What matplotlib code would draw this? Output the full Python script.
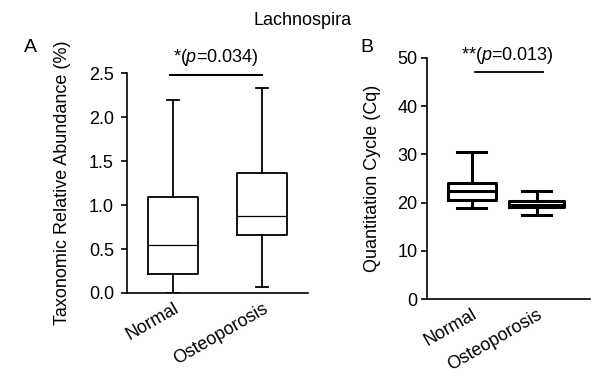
"""Lachnospira box plots: relative abundance (A) and qPCR Cq (B)"""
import matplotlib
matplotlib.use('Agg')
import matplotlib.pyplot as plt

plt.rcParams['font.family'] = ['Liberation Sans', 'DejaVu Sans']
plt.rcParams['mathtext.fontset'] = 'custom'
plt.rcParams['mathtext.it'] = 'Liberation Sans:italic'
plt.rcParams['mathtext.rm'] = 'Liberation Sans'

groups = ['Normal', 'Osteoporosis']

# panel A: taxonomic relative abundance (%)
abund_stats = [
    dict(whislo=0.0, q1=0.22, med=0.55, q3=1.09, whishi=2.20),
    dict(whislo=0.07, q1=0.66, med=0.88, q3=1.37, whishi=2.33),
]
# panel B: quantitation cycle (Cq)
cq_stats = [
    dict(whislo=18.8, q1=20.5, med=22.5, q3=24.0, whishi=30.5),
    dict(whislo=17.5, q1=19.0, med=19.6, q3=20.4, whishi=22.4),
]
p_text = ['*($p$=0.034)', '**($p$=0.013)']

FS = 13

fig = plt.figure(figsize=(6.08, 3.79), dpi=100)
axA = fig.add_axes([0.209, 0.227, 0.298, 0.580])
axB = fig.add_axes([0.703, 0.211, 0.267, 0.636])

def style_axis(ax, ypad):
    for s in ['top', 'right']:
        ax.spines[s].set_visible(False)
    for s in ['left', 'bottom']:
        ax.spines[s].set_linewidth(1.2)
    ax.tick_params(axis='y', length=4, width=1.2, labelsize=FS, pad=ypad)
    ax.tick_params(axis='x', length=0, labelsize=FS, pad=5)
    ax.set_xticks([1, 2])
    ax.set_xticklabels(groups, rotation=30, ha='right', rotation_mode='anchor')

# Panel A
for i, st in enumerate(abund_stats):
    axA.bxp([dict(st, label=groups[i])], positions=[i + 1], widths=0.56,
            showfliers=False, capwidths=0.14,
            boxprops=dict(color='black', linewidth=1.3),
            whiskerprops=dict(color='black', linewidth=1.3),
            capprops=dict(color='black', linewidth=1.3),
            medianprops=dict(color='black', linewidth=0.9))
axA.set_xlim(0.48, 2.52)
axA.set_ylim(0, 2.5)
axA.set_yticks([0, 0.5, 1.0, 1.5, 2.0, 2.5])
axA.set_yticklabels(['0.0', '0.5', '1.0', '1.5', '2.0', '2.5'])
axA.set_ylabel('Taxonomic Relative Abundance (%)', fontsize=FS, labelpad=13)
style_axis(axA, 5.5)
axA.plot([0.96, 2.0], [2.48, 2.48], color='black', lw=1.5, clip_on=False)
axA.text(1.48, 2.56, p_text[0], ha='center', va='bottom', fontsize=FS)

# Panel B
b_widths = [0.74, 0.86]
for i, st in enumerate(cq_stats):
    axB.bxp([dict(st, label=groups[i])], positions=[i + 1], widths=b_widths[i],
            showfliers=False, capwidths=0.45,
            boxprops=dict(color='black', linewidth=2.2),
            whiskerprops=dict(color='black', linewidth=2.2),
            capprops=dict(color='black', linewidth=2.2),
            medianprops=dict(color='black', linewidth=2.2))
axB.set_xlim(0.32, 2.82)
axB.set_ylim(0, 50)
axB.set_yticks([0, 10, 20, 30, 40, 50])
axB.set_ylabel('Quantitation Cycle (Cq)', fontsize=FS, labelpad=12)
style_axis(axB, 3)
axB.plot([1.05, 2.1], [47.1, 47.1], color='black', lw=1.3, clip_on=False)
axB.text(1.55, 48.3, p_text[1], ha='center', va='bottom', fontsize=FS)

fig.text(0.498, 0.945, 'Lachnospira', ha='center', va='center', fontsize=FS)
fig.text(0.05, 0.875, 'A', ha='center', va='center', fontsize=14)
fig.text(0.603, 0.875, 'B', ha='center', va='center', fontsize=14)

plt.savefig('out.png', dpi=100)
plt.close()
